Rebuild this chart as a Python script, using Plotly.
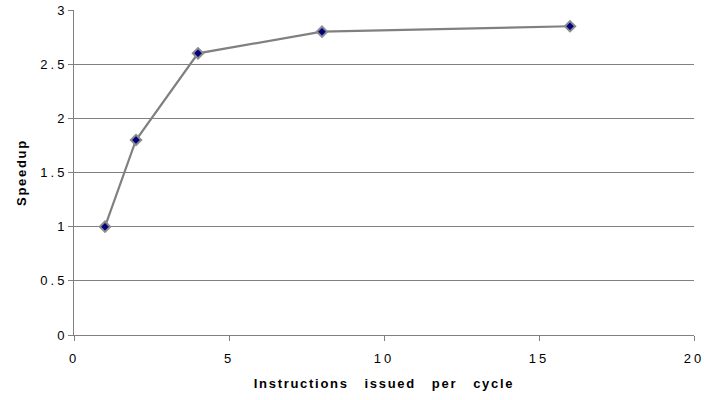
import plotly.graph_objects as go

issue_width = [1, 2, 4, 8, 16]
speedup = [1.0, 1.8, 2.6, 2.8, 2.85]

x_ticks = [0, 5, 10, 15, 20]
y_ticks = [0, 0.5, 1, 1.5, 2, 2.5, 3]
y_tick_text = ["0", "0.5", "1", "1.5", "2", "2.5", "3"]

fig = go.Figure()
fig.add_trace(go.Scatter(
    x=issue_width, y=speedup,
    mode="lines+markers",
    line=dict(color="#808080", width=2.2),
    marker=dict(symbol="diamond", size=8, color="#000080",
                line=dict(color="#8c8c8c", width=2)),
    showlegend=False,
))

font = "Liberation Sans, Arial, sans-serif"
fig.update_layout(
    width=705, height=400,
    margin=dict(l=74, r=11, t=10, b=65),
    paper_bgcolor="white", plot_bgcolor="white",
    font=dict(family=font, size=13, color="#000000"),
    xaxis=dict(
        range=[0, 20], tickvals=x_ticks,
        showgrid=False, zeroline=False, automargin=False,
        showline=True, linecolor="#808080", linewidth=1,
        ticks="outside", ticklen=5, tickcolor="#808080",
        tickfont=dict(size=13), ticklabelstandoff=6,
        title=dict(text="<b>Instructions   issued   per   cycle</b>",
                   font=dict(size=13), standoff=14),
    ),
    yaxis=dict(
        range=[0, 3], tickvals=y_ticks, ticktext=y_tick_text,
        showgrid=True, gridcolor="#808080", gridwidth=1,
        zeroline=False, automargin=False,
        showline=True, linecolor="#808080", linewidth=1,
        ticks="outside", ticklen=5, tickcolor="#808080",
        tickfont=dict(size=13), ticklabelstandoff=-2,
        title=dict(text="<b>Speedup</b>", font=dict(size=13), standoff=19),
    ),
)

# widen character spacing of tick labels and axis titles
spacing_js = """
var st = document.createElement('style');
st.textContent = '.xtick text, .ytick text {letter-spacing: 3px; white-space: pre;}'
  + ' .xtitle, .ytitle {letter-spacing: 1.7px; white-space: pre;}';
document.head.appendChild(st);
"""
fig.write_html("out.html", post_script=spacing_js)
